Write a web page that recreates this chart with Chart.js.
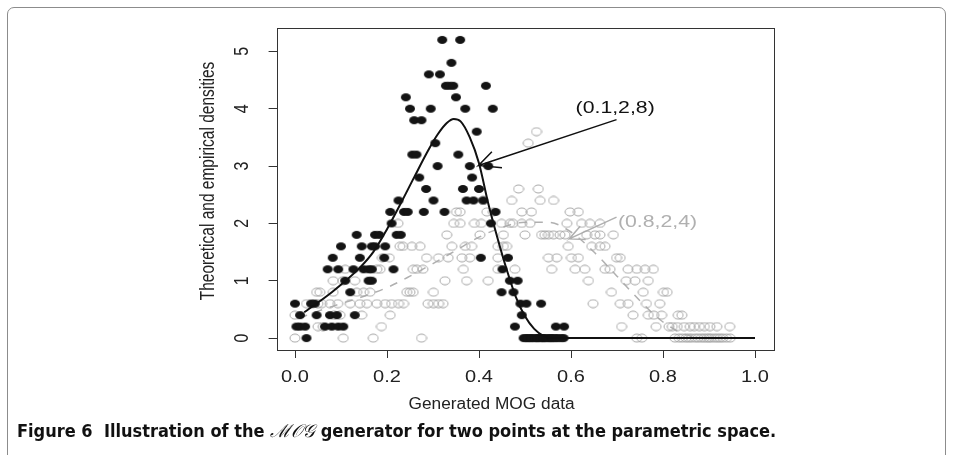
<!DOCTYPE html>
<html lang="en">
<head>
  <meta charset="UTF-8">
  <title>MOG generator densities</title>
  <script src="https://cdn.jsdelivr.net/npm/chart.js"></script>
  <style>
    html, body { margin: 0; padding: 0; background: #fff; }
    #wrap { position: relative; width: 955px; height: 455px; overflow: hidden; }
    #frame { position: absolute; left: 7px; top: 7px; width: 939px; height: 470px;
             border: 1px solid #8c8c8c; border-radius: 7px; box-sizing: border-box; }
    #chartCanvas { position: absolute; left: 0; top: 0; }
    #caption { position: absolute; left: 17px; top: 418px; white-space: nowrap;
               font-family: "Liberation Sans Narrow", "DejaVu Sans Condensed", sans-serif;
               font-weight: bold; font-size: 18px; color: #111; }
    #caption .mog { font-family: "DejaVu Serif", serif; font-weight: normal; font-style: italic; }
  </style>
</head>
<body>
<div id="wrap">
  <div id="frame"></div>
  <canvas id="chartCanvas" width="955" height="455"></canvas>
  <div id="caption">Figure 6&nbsp; Illustration of the <span class="mog">ℳ𝒪𝒢</span> generator for two points at the parametric space.</div>
</div>
<script>
// axis ticks
const xTicks = [0, 0.2, 0.4, 0.6, 0.8, 1.0];
const xTickLabels = ['0.0', '0.2', '0.4', '0.6', '0.8', '1.0'];
const yTicks = [0, 1, 2, 3, 4, 5];
const yTickLabels = ['0', '1', '2', '3', '4', '5'];

// empirical densities, (0.1,2,8): [density, [x values...]]
const darkRows = [
  [5.2, [0.320, 0.359]],
  [4.8, [0.340]],
  [4.6, [0.291, 0.315]],
  [4.4, [0.328, 0.336, 0.344, 0.415]],
  [4.2, [0.241, 0.350]],
  [4.0, [0.250, 0.295, 0.370, 0.430]],
  [3.8, [0.259, 0.275]],
  [3.6, [0.395]],
  [3.4, [0.305]],
  [3.2, [0.255, 0.264, 0.355]],
  [3.0, [0.310, 0.380, 0.420]],
  [2.8, [0.270, 0.385]],
  [2.6, [0.285, 0.365, 0.400]],
  [2.4, [0.225, 0.301, 0.373, 0.388, 0.409]],
  [2.2, [0.207, 0.237, 0.245, 0.280, 0.325, 0.436]],
  [2.0, [0.210, 0.426]],
  [1.8, [0.134, 0.174, 0.183, 0.221, 0.230]],
  [1.6, [0.100, 0.145, 0.167, 0.174, 0.196]],
  [1.4, [0.082, 0.141, 0.194, 0.404, 0.463]],
  [1.2, [0.071, 0.094, 0.127, 0.149, 0.160, 0.167, 0.214, 0.451]],
  [1.0, [0.109, 0.160, 0.167, 0.467, 0.484]],
  [0.8, [0.120, 0.449, 0.475]],
  [0.6, [0.000, 0.035, 0.043, 0.490, 0.503, 0.535]],
  [0.4, [0.011, 0.047, 0.076, 0.091, 0.130, 0.493]],
  [0.2, [0.003, 0.011, 0.022, 0.065, 0.080, 0.094, 0.105, 0.478, 0.567, 0.585]],
  [0.0, [0.025, 0.497, 0.503, 0.506, 0.512, 0.515, 0.521, 0.526, 0.528, 0.534, 0.539,
         0.541, 0.547, 0.552, 0.557, 0.560, 0.566, 0.571, 0.578, 0.584]]
];

// empirical densities, (0.8,2,4)
const lightRows = [
  [3.6, [0.525]],
  [3.4, [0.507]],
  [2.6, [0.486, 0.529]],
  [2.4, [0.409, 0.471, 0.533, 0.562]],
  [2.2, [0.351, 0.359, 0.417, 0.431, 0.493, 0.514, 0.598, 0.616]],
  [2.0, [0.224, 0.345, 0.359, 0.390, 0.405, 0.449, 0.467, 0.474, 0.493, 0.511, 0.591, 0.623, 0.641, 0.663]],
  [1.8, [0.330, 0.402, 0.453, 0.500, 0.536, 0.543, 0.551, 0.562, 0.576, 0.587, 0.634, 0.652, 0.663, 0.692]],
  [1.6, [0.228, 0.235, 0.254, 0.272, 0.341, 0.370, 0.384, 0.441, 0.453, 0.460, 0.594, 0.645, 0.663, 0.674]],
  [1.4, [0.190, 0.205, 0.286, 0.312, 0.333, 0.363, 0.380, 0.441, 0.551, 0.569, 0.601, 0.616, 0.699, 0.707]],
  [1.2, [0.109, 0.178, 0.185, 0.257, 0.265, 0.278, 0.366, 0.441, 0.478, 0.558, 0.609, 0.630, 0.674, 0.685,
         0.724, 0.743, 0.761, 0.779]],
  [1.0, [0.083, 0.104, 0.130, 0.326, 0.373, 0.420, 0.638, 0.720, 0.739, 0.768]],
  [0.8, [0.047, 0.054, 0.083, 0.134, 0.149, 0.163, 0.243, 0.250, 0.257, 0.301, 0.688, 0.757, 0.801, 0.809]],
  [0.6, [0.025, 0.038, 0.050, 0.058, 0.076, 0.093, 0.120, 0.141, 0.156, 0.178, 0.196, 0.210, 0.225, 0.236,
         0.289, 0.301, 0.312, 0.322, 0.648, 0.707, 0.724, 0.764, 0.793]],
  [0.4, [0.000, 0.085, 0.098, 0.145, 0.207, 0.735, 0.768, 0.780, 0.797, 0.833, 0.841]],
  [0.2, [0.050, 0.061, 0.188, 0.710, 0.785, 0.813, 0.820, 0.831, 0.846, 0.859, 0.868, 0.879, 0.890,
         0.902, 0.917, 0.945]],
  [0.0, [0.000, 0.105, 0.170, 0.275, 0.743, 0.754, 0.826, 0.835, 0.842, 0.850, 0.856, 0.862, 0.870,
         0.876, 0.883, 0.889, 0.895, 0.900, 0.905, 0.912, 0.918, 0.924, 0.930, 0.938, 0.946]]
];

// theoretical densities
const darkCurveX = [0.02, 0.05, 0.08, 0.11, 0.14, 0.17, 0.20, 0.23, 0.26, 0.29, 0.31, 0.33, 0.345,
                    0.36, 0.38, 0.40, 0.42, 0.44, 0.46, 0.48, 0.50, 0.52, 0.54, 0.56, 1.00];
const darkCurveY = [0.45, 0.62, 0.80, 1.00, 1.22, 1.50, 1.90, 2.35, 2.82, 3.28, 3.55, 3.75, 3.82,
                    3.78, 3.50, 3.05, 2.35, 1.75, 1.20, 0.72, 0.38, 0.16, 0.04, 0.0, 0.0];
const lightCurveX = [0.01, 0.05, 0.10, 0.15, 0.20, 0.25, 0.30, 0.35, 0.40, 0.45, 0.50, 0.55,
                     0.60, 0.65, 0.70, 0.75, 0.80, 0.85, 0.90, 1.00];
const lightCurveY = [0.35, 0.47, 0.60, 0.73, 0.88, 1.08, 1.30, 1.53, 1.76, 1.93, 2.02, 2.02,
                     1.85, 1.50, 1.08, 0.65, 0.28, 0.06, 0.0, 0.0];

// annotation arrows: tail, tip, head ends
const darkArrow = [[0.699, 3.81], [0.399, 3.01], [0.428, 3.25], [0.399, 3.01], [0.450, 2.97]];
const lightArrow = [[0.699, 2.11], [0.596, 1.73], [0.620, 1.95], [0.596, 1.73], [0.632, 1.72]];
const darkLabel = ['(0.1,2,8)', 0.696, 4.01];
const lightLabel = ['(0.8,2,4)', 0.702, 2.02];

const rowsToPoints = rows => rows.flatMap(([y, xs]) => xs.map(x => ({ x, y })));
const pairs = (xs, ys) => xs.map((x, i) => ({ x, y: ys[i] }));

// the original figure is stretched horizontally, so marks are little ellipses
function ellipseSprite(w, h, fill, stroke) {
  const c = document.createElement('canvas');
  c.width = w + 2; c.height = h + 2;
  const g = c.getContext('2d');
  g.beginPath();
  g.ellipse(c.width / 2, c.height / 2, w / 2, h / 2, 0, 0, Math.PI * 2);
  if (fill) { g.fillStyle = fill; g.fill(); }
  if (stroke) { g.strokeStyle = stroke; g.lineWidth = 1; g.stroke(); }
  return c;
}
const darkDot = ellipseSprite(10, 8, '#141414', null);
const lightDot = ellipseSprite(10, 8, null, '#a8a8a8');

function stretchText(ctx, s, x, y, rot, font, color, sx) {
  ctx.save();
  ctx.translate(x, y);
  ctx.scale(sx || 1.25, 1);
  if (rot) ctx.rotate(rot);
  ctx.font = font;
  ctx.fillStyle = color;
  ctx.textAlign = 'center';
  ctx.textBaseline = 'middle';
  ctx.fillText(s, 0, 0);
  ctx.restore();
}

const axisText = {
  id: 'axisText',
  afterDraw(chart) {
    const { ctx, chartArea: a, scales: { x, y } } = chart;
    const f = '16px "Liberation Sans", Arial, sans-serif';
    // box
    ctx.save();
    ctx.strokeStyle = '#333';
    ctx.lineWidth = 1;
    ctx.strokeRect(Math.round(a.left) + 0.5, Math.round(a.top) + 0.5,
                   Math.round(a.right - a.left), Math.round(a.bottom - a.top));
    ctx.restore();
    xTicks.forEach((v, i) => stretchText(ctx, xTickLabels[i], x.getPixelForValue(v), a.bottom + 28, 0, f, '#222'));
    yTicks.forEach((v, i) => stretchText(ctx, yTickLabels[i], a.left - 34, y.getPixelForValue(v), -Math.PI / 2, f, '#222'));
    stretchText(ctx, 'Generated MOG data', a.left + 215, a.bottom + 55, 0,
                '16px "Liberation Sans", Arial, sans-serif', '#222', 1.08);
    stretchText(ctx, 'Theoretical and empirical densities', a.left - 68, (a.top + a.bottom) / 2 - 8, -Math.PI / 2,
                '15.5px "Liberation Sans", Arial, sans-serif', '#222');
    stretchText(ctx, darkLabel[0], x.getPixelForValue(darkLabel[1]), y.getPixelForValue(darkLabel[2]), 0,
                '17px "Liberation Sans", Arial, sans-serif', '#111');
    ctx.save();
    ctx.font = '17px "Liberation Sans", Arial, sans-serif';
    const w = ctx.measureText(lightLabel[0]).width * 1.25;
    ctx.restore();
    stretchText(ctx, lightLabel[0], x.getPixelForValue(lightLabel[1]) + w / 2, y.getPixelForValue(lightLabel[2]), 0,
                '17px "Liberation Sans", Arial, sans-serif', '#b0b0b0');
  }
};

const chart = new Chart(document.getElementById('chartCanvas'), {
  type: 'scatter',
  data: {
    datasets: [
      {
        label: 'arrow (0.1,2,8)', type: 'line', data: darkArrow.map(([x, y]) => ({ x, y })),
        borderColor: '#111', borderWidth: 1.5, pointRadius: 0, tension: 0, order: 1
      },
      {
        label: 'arrow (0.8,2,4)', type: 'line', data: lightArrow.map(([x, y]) => ({ x, y })),
        borderColor: '#b0b0b0', borderWidth: 1.5, pointRadius: 0, tension: 0, order: 6
      },
      {
        label: 'theoretical (0.1,2,8)', type: 'line', data: pairs(darkCurveX, darkCurveY),
        borderColor: '#111', borderWidth: 2, pointRadius: 0, cubicInterpolationMode: 'monotone', order: 2
      },
      {
        label: 'theoretical (0.8,2,4)', type: 'line', data: pairs(lightCurveX, lightCurveY),
        borderColor: '#b0b0b0', borderWidth: 1.5, borderDash: [8, 8], pointRadius: 0,
        cubicInterpolationMode: 'monotone', order: 5
      },
      {
        label: 'empirical (0.1,2,8)', data: rowsToPoints(darkRows),
        pointStyle: darkDot, pointRadius: 4, order: 3
      },
      {
        label: 'empirical (0.8,2,4)', data: rowsToPoints(lightRows),
        pointStyle: lightDot, pointRadius: 5, order: 4
      }
    ]
  },
  options: {
    responsive: false,
    animation: false,
    events: [],
    layout: { padding: { top: 28, right: 181.6, left: 0, bottom: 0 } },
    scales: {
      x: {
        type: 'linear', min: -0.04, max: 1.04,
        afterBuildTicks: s => { s.ticks = xTicks.map(value => ({ value })); },
        afterFit: s => { s.height = 105; },
        ticks: { display: false },
        grid: { drawOnChartArea: false, drawTicks: true, tickLength: 8, color: '#333' },
        border: { display: false }
      },
      y: {
        type: 'linear', min: -0.208, max: 5.408,
        afterBuildTicks: s => { s.ticks = yTicks.map(value => ({ value })); },
        afterFit: s => { s.width = 276.6; },
        ticks: { display: false },
        grid: { drawOnChartArea: false, drawTicks: true, tickLength: 8, color: '#333' },
        border: { display: false }
      }
    },
    plugins: { legend: { display: false }, tooltip: { enabled: false } }
  },
  plugins: [axisText]
});
</script>
</body>
</html>
